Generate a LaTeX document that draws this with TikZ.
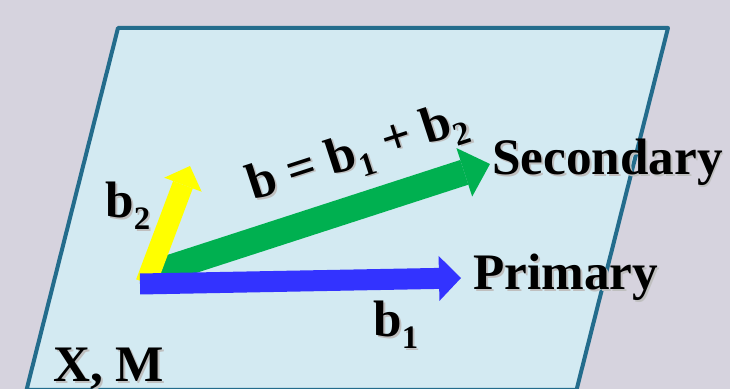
\documentclass[tikz,border=0pt]{standalone}
\usepackage{fontspec}
\setmainfont{Liberation Serif}
\usepackage{graphicx}
\usetikzlibrary{arrows.meta}
\definecolor{bgc}{RGB}{214,211,222}
\definecolor{planefill}{RGB}{211,234,242}
\definecolor{planeedge}{RGB}{35,108,140}
\definecolor{blueA}{RGB}{51,51,255}
\definecolor{greenA}{RGB}{0,176,80}
\definecolor{yellowA}{RGB}{255,255,0}
\newcommand\sdw[1]{\makebox[0pt][l]{\kern0.9pt\raisebox{-0.9pt}{\color{black!25}#1}}#1}
\newcommand\subs[1]{\raisebox{-0.22em}{\scalebox{0.64}{#1}}}
\tikzset{
  lbl/.style={inner sep=0pt, anchor=base west, font=\fontsize{25.6}{30}\selectfont\bfseries},
  bluearrow/.style={draw=blueA, line width=10.5pt, -{Triangle[width=22.5pt,length=11pt,line width=0pt]}},
  greenarrow/.style={draw=greenA, line width=13pt, -{Triangle[width=25.5pt,length=13.5pt,line width=0pt]}},
  yellowarrow/.style={draw=yellowA, line width=10.5pt, -{Triangle[width=20pt,length=10pt,line width=0pt]}},
  plane/.style={fill=planefill, draw=planeedge, line width=2pt, line join=round}
}
\begin{document}
\begin{tikzpicture}[x=0.5pt,y=-0.5pt]
\useasboundingbox (0,0) rectangle (730,389);
\fill[bgc] (0,0) rectangle (730,389);
\draw[plane] (118,28) -- (668,28) -- (576.5,390) -- (26.5,390) -- cycle;
\coordinate (gs) at (160,271);
\coordinate (ge) at (490,164);
\coordinate (ys) at (146,283);
\coordinate (ye) at (190,166);
\coordinate (bs) at (140,284);
\coordinate (be) at (461,278);
\draw[greenarrow] (gs) -- (ge);
\draw[yellowarrow] (ys) -- (ye);
\draw[bluearrow] (bs) -- (be);
\node[lbl] (sec) at (492,175) {\sdw{Secondary}};
\node[lbl] (pri) at (473,290) {\sdw{Primary}};
\node[lbl] (b1) at (373,337) {\sdw{b\subs{1}}};
\node[lbl] (b2) at (105,218) {\sdw{b\subs{2}}};
\node[lbl] (xm) at (53,382) {\sdw{X, M}};
\node[lbl, rotate=18] (bsum) at (253,201) {\sdw{b = b\subs{1} + b\subs{2}}};
\end{tikzpicture}
\end{document}
